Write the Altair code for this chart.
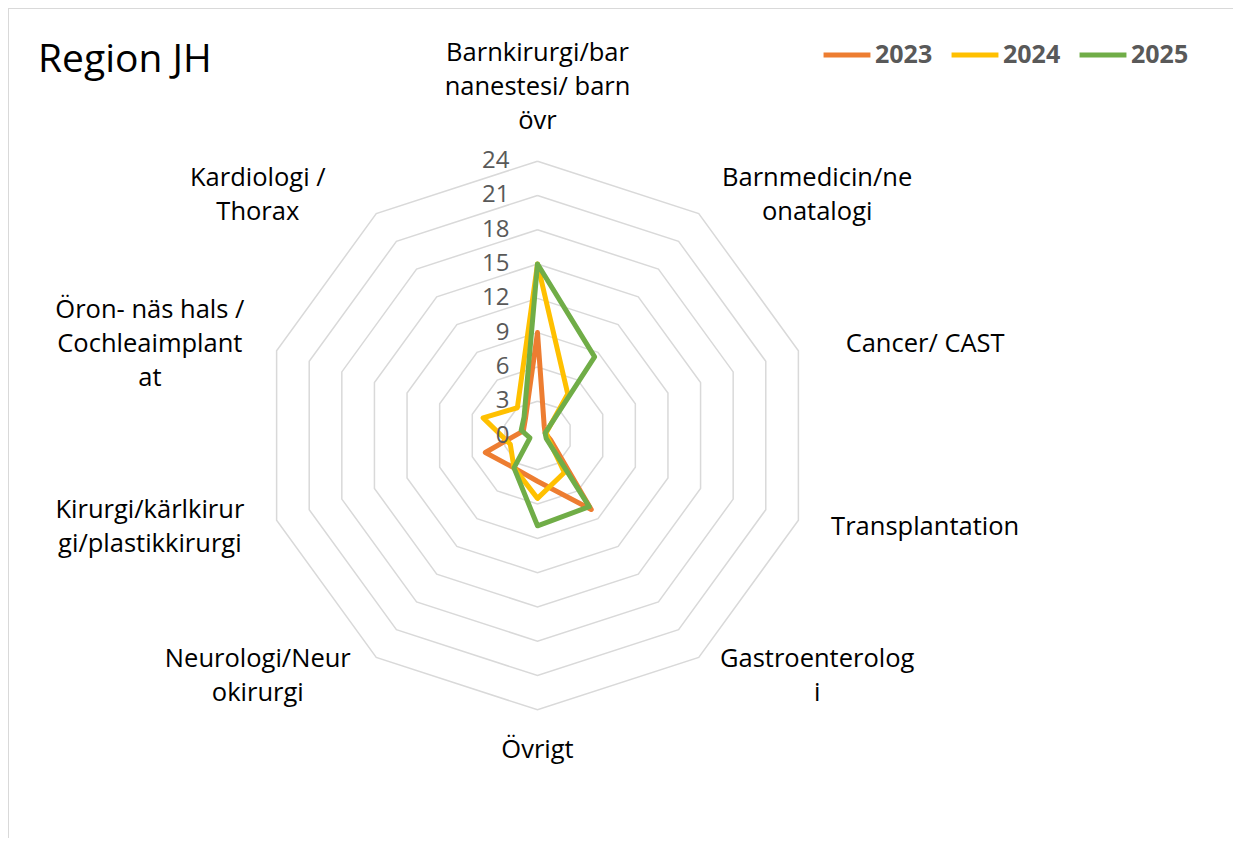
import math
import altair as alt
import pandas as pd

# ---------------- data ----------------
categories = [
    "Barnkirurgi/barnanestesi/ barn övr",
    "Barnmedicin/neonatalogi",
    "Cancer/ CAST",
    "Transplantation",
    "Gastroenterologi",
    "Övrigt",
    "Neurologi/Neurokirurgi",
    "Kirurgi/kärlkirurgi/plastikkirurgi",
    "Öron- näs hals / Cochleaimplantat",
    "Kardiologi / Thorax",
]
label_lines = [
    ["Barnkirurgi/bar", "nanestesi/ barn", "övr"],
    ["Barnmedicin/ne", "onatalogi"],
    ["Cancer/ CAST"],
    ["Transplantation"],
    ["Gastroenterolog", "i"],
    ["Övrigt"],
    ["Neurologi/Neur", "okirurgi"],
    ["Kirurgi/kärlkirur", "gi/plastikkirurgi"],
    ["Öron- näs hals /", "Cochleaimplant", "at"],
    ["Kardiologi /", "Thorax"],
]
years = ["2023", "2024", "2025"]
values_2023 = [9, 1, 0.7, 1.2, 8, 4, 3.5, 4.8, 1.3, 1.8]
values_2024 = [15, 4.5, 0.8, 1, 4, 5.5, 3.5, 2.5, 5, 3]
values_2025 = [15, 8.5, 0.7, 0.8, 7.7, 7.9, 3.5, 0.7, 1.5, 2]
tick_values = [0, 3, 6, 9, 12, 15, 18, 21, 24]
series_colors = ["#ED7D31", "#FFC000", "#70AD47"]
title_text = "Region JH"

# ---------------- geometry ----------------
N = len(categories)
PX = 11.43            # pixels per value unit
W, H = 1225, 830      # plot area (fits the window with the 8px page margin)
CX, CY = 529.5, 427.5 # radar centre inside plot area (px)
LABEL_R = 26          # radius for category label anchors (value units)
BOX_HALF = 105 / PX   # half width of the label box
LINE_H = 34
FONT = "Open Sans"
GRID = "#d9d9d9"

xs = alt.Scale(domain=[-CX / PX, (W - CX) / PX], nice=False, zero=False)
ys = alt.Scale(domain=[-(H - CY) / PX, CY / PX], nice=False, zero=False)

series_rows = []
for yr, vals in zip(years, [values_2023, values_2024, values_2025]):
    for k in range(N + 1):
        series_rows.append({"year": yr, "idx": k % N, "order": k, "value": vals[k % N]})
series_df = pd.DataFrame(series_rows)

grid_df = pd.DataFrame(
    [{"ring": t, "idx": k % N, "order": k, "value": t} for t in tick_values[1:] for k in range(N + 1)]
)

lab_rows = []
for i, lines in enumerate(label_lines):
    th = 2 * math.pi * i / N
    s, c = math.sin(th), math.cos(th)
    lx, ly = LABEL_R * s, LABEL_R * c
    n = len(lines)
    if abs(s) < 0.1:
        ly += math.copysign(n * LINE_H / 2 / PX, c)
    else:
        lx += math.copysign(BOX_HALF, s)
    # vega draws the first line at the anchor: move anchor so the block is centred
    ly += (n - 1) * LINE_H / 2 / PX
    lab_rows.append({"text": "\n".join(lines), "lx": lx, "ly": ly})
label_df = pd.DataFrame(lab_rows)

tick_df = pd.DataFrame({"v": tick_values, "x0": [0] * len(tick_values)})


def polar(ch):
    return ch.transform_calculate(
        theta=f"datum.idx * 2 * PI / {N}"
    ).transform_calculate(
        px="datum.value * sin(datum.theta)",
        py="datum.value * cos(datum.theta)",
    )


frame_df = pd.DataFrame({"a": [0]})
frame_top = alt.Chart(frame_df).mark_rule(color=GRID, strokeWidth=2).encode(
    x=alt.value(0), x2=alt.value(W), y=alt.value(0)
)
frame_left = alt.Chart(frame_df).mark_rule(color=GRID, strokeWidth=2).encode(
    x=alt.value(0), y=alt.value(0), y2=alt.value(H)
)

grid = polar(alt.Chart(grid_df)).mark_line(
    color=GRID, strokeWidth=1.5
).encode(
    x=alt.X("px:Q", scale=xs, axis=None),
    y=alt.Y("py:Q", scale=ys, axis=None),
    detail="ring:N",
    order="order:Q",
)

lines = polar(alt.Chart(series_df)).mark_line(
    strokeWidth=5, strokeJoin="round", strokeCap="round"
).encode(
    x=alt.X("px:Q", scale=xs, axis=None),
    y=alt.Y("py:Q", scale=ys, axis=None),
    order="order:Q",
    color=alt.Color(
        "year:N",
        scale=alt.Scale(domain=years, range=series_colors),
        legend=alt.Legend(
            title=None,
            orient="none",
            legendX=813,
            legendY=21,
            direction="horizontal",
            symbolType="stroke",
            symbolStrokeWidth=5,
            symbolSize=2200,
            labelFont=FONT,
            labelFontSize=25,
            labelFontWeight="bold",
            labelColor="#595959",
            labelOffset=2,
            columnPadding=8,
            padding=0,
        ),
    ),
)

ticks = alt.Chart(tick_df).mark_text(
    align="right", baseline="middle", dx=-28, font=FONT, fontSize=24, color="#595959"
).encode(
    x=alt.X("x0:Q", scale=xs, axis=None),
    y=alt.Y("v:Q", scale=ys, axis=None),
    text="v:Q",
)

cat_labels = alt.Chart(label_df).mark_text(
    align="center", baseline="middle", lineBreak="\n", lineHeight=LINE_H,
    font=FONT, fontSize=25.5, color="#000000"
).encode(
    x=alt.X("lx:Q", scale=xs, axis=None),
    y=alt.Y("ly:Q", scale=ys, axis=None),
    text="text:N",
)

title = alt.Chart(pd.DataFrame({"t": [title_text]})).mark_text(
    align="left", baseline="alphabetic", font=FONT, fontSize=39, color="#000000"
).encode(
    x=alt.value(30),
    y=alt.value(64),
    text="t:N",
)

chart = alt.layer(frame_top, frame_left, grid, lines, ticks, cat_labels, title).properties(
    width=W, height=H, padding=0, autosize=alt.AutoSizeParams(type="none")
).configure_view(
    strokeWidth=0
).configure(font=FONT)

chart.save("out.html", embed_options={"renderer": "svg", "actions": False})
